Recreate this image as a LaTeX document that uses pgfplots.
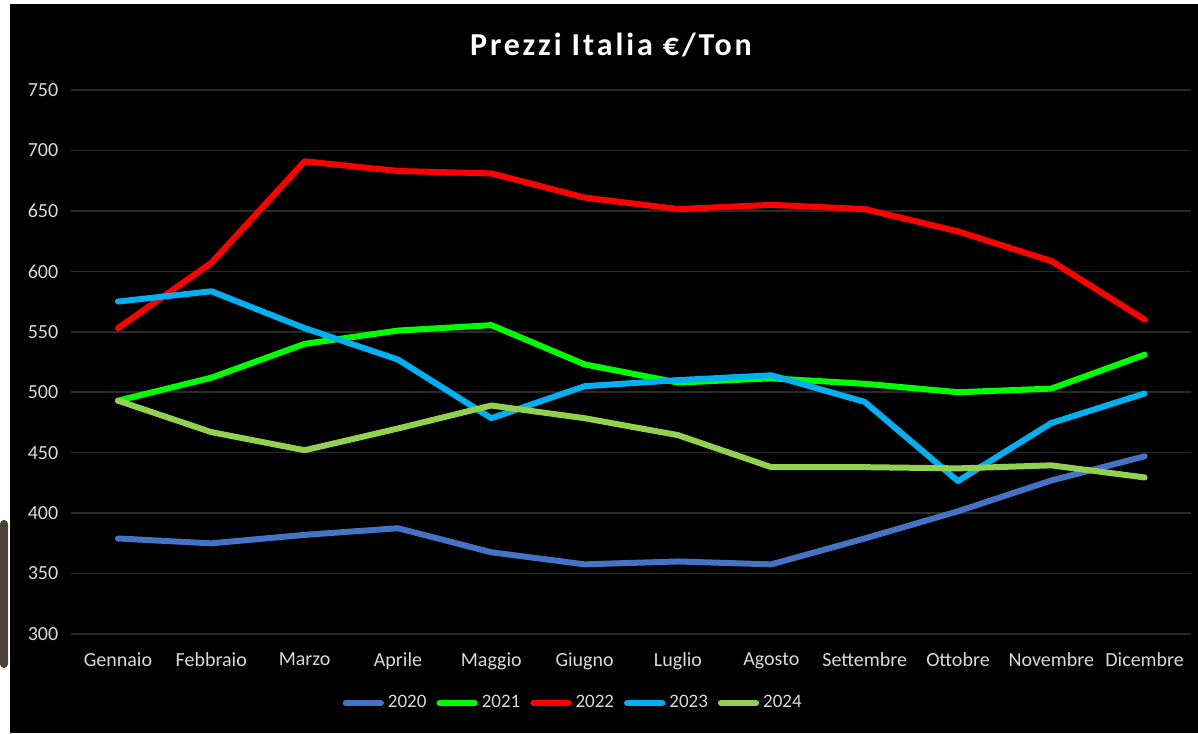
\documentclass[border=0pt]{standalone}
\usepackage{fontspec}
\setmainfont{Carlito}
\newfontfamily\titlefont[LetterSpace=9]{Carlito}
\usepackage{pgfplots}
\pgfplotsset{compat=1.18}
\definecolor{c2020}{HTML}{4472C4}
\definecolor{c2021}{HTML}{00FF00}
\definecolor{c2022}{HTML}{FF0000}
\definecolor{c2023}{HTML}{00B0F0}
\definecolor{c2024}{HTML}{92D050}
\definecolor{gridc}{HTML}{2A2A2A}
\definecolor{labc}{HTML}{D9D9D9}
\definecolor{binder}{HTML}{4A4036}

\begin{document}
\begin{tikzpicture}[x=0.5pt,y=0.5pt]
% frame in pixel units (y upwards)
\fill[white] (0,0) rectangle (1198,733);
\fill[black] (10,0) rectangle (1198,729);
\fill[binder, rounded corners=2pt] (0,65) rectangle (8,213);
\node[text=white, font=\titlefont\bfseries\fontsize{16}{19}\selectfont] at (611,688) {Prezzi Italia €/Ton};
\begin{axis}[
    at={(35.65pt,49.5pt)}, anchor=south west,
    scale only axis,
    width=560pt, height=272pt,
    xmin=-0.5, xmax=11.5,
    ymin=300, ymax=750,
    xtick={0,...,11},
    xticklabels={Gennaio,Febbraio,Marzo,Aprile,Maggio,Giugno,Luglio,Agosto,Settembre,Ottobre,Novembre,Dicembre},
    ytick={300,350,...,750},
    axis line style={draw=none},
    major tick length=0pt,
    ymajorgrids,
    grid style={gridc, line width=0.8pt},
    tick label style={text=labc, font=\fontsize{10}{12}\selectfont},
    /pgf/number format/assume math mode=true,
    yticklabel style={xshift=-3pt},
    xticklabel style={yshift=-6pt},
    legend columns=5,
    legend style={at={(0.449,-0.127)}, anchor=center, draw=none, fill=none,
        text=labc, font=\fontsize{9.5}{11}\selectfont,
        /tikz/every even column/.append style={column sep=3pt},
        /tikz/every odd column/.append style={column sep=0pt}},
    legend image code/.code={\draw[#1, line width=3pt, line cap=round] (0cm,0cm) -- (0.62cm,0cm);},
    every axis plot/.append style={line width=3pt, line cap=round, line join=round},
]
\addplot[c2020] coordinates {(0,379) (1,375) (2,382) (3,387.5) (4,367.6) (5,357.6) (6,360) (7,357.6) (8,379) (9,401.5) (10,427) (11,447)};
\addlegendentry{2020}
\addplot[c2021] coordinates {(0,493) (1,512) (2,540) (3,551) (4,555.5) (5,523) (6,508) (7,511.5) (8,507) (9,500) (10,503) (11,531)};
\addlegendentry{2021}
\addplot[c2022] coordinates {(0,553) (1,607) (2,691) (3,683) (4,681) (5,661) (6,651.5) (7,655) (8,651.5) (9,633) (10,608.5) (11,560)};
\addlegendentry{2022}
\addplot[c2023] coordinates {(0,575) (1,583.5) (2,553) (3,527) (4,478.5) (5,505) (6,510) (7,514) (8,492) (9,426.5) (10,474.5) (11,499)};
\addlegendentry{2023}
\addplot[c2024] coordinates {(0,493) (1,467) (2,452) (3,470) (4,489) (5,478.5) (6,464.5) (7,438) (8,438) (9,437) (10,439.5) (11,429.5)};
\addlegendentry{2024}
\end{axis}
\end{tikzpicture}
\end{document}
